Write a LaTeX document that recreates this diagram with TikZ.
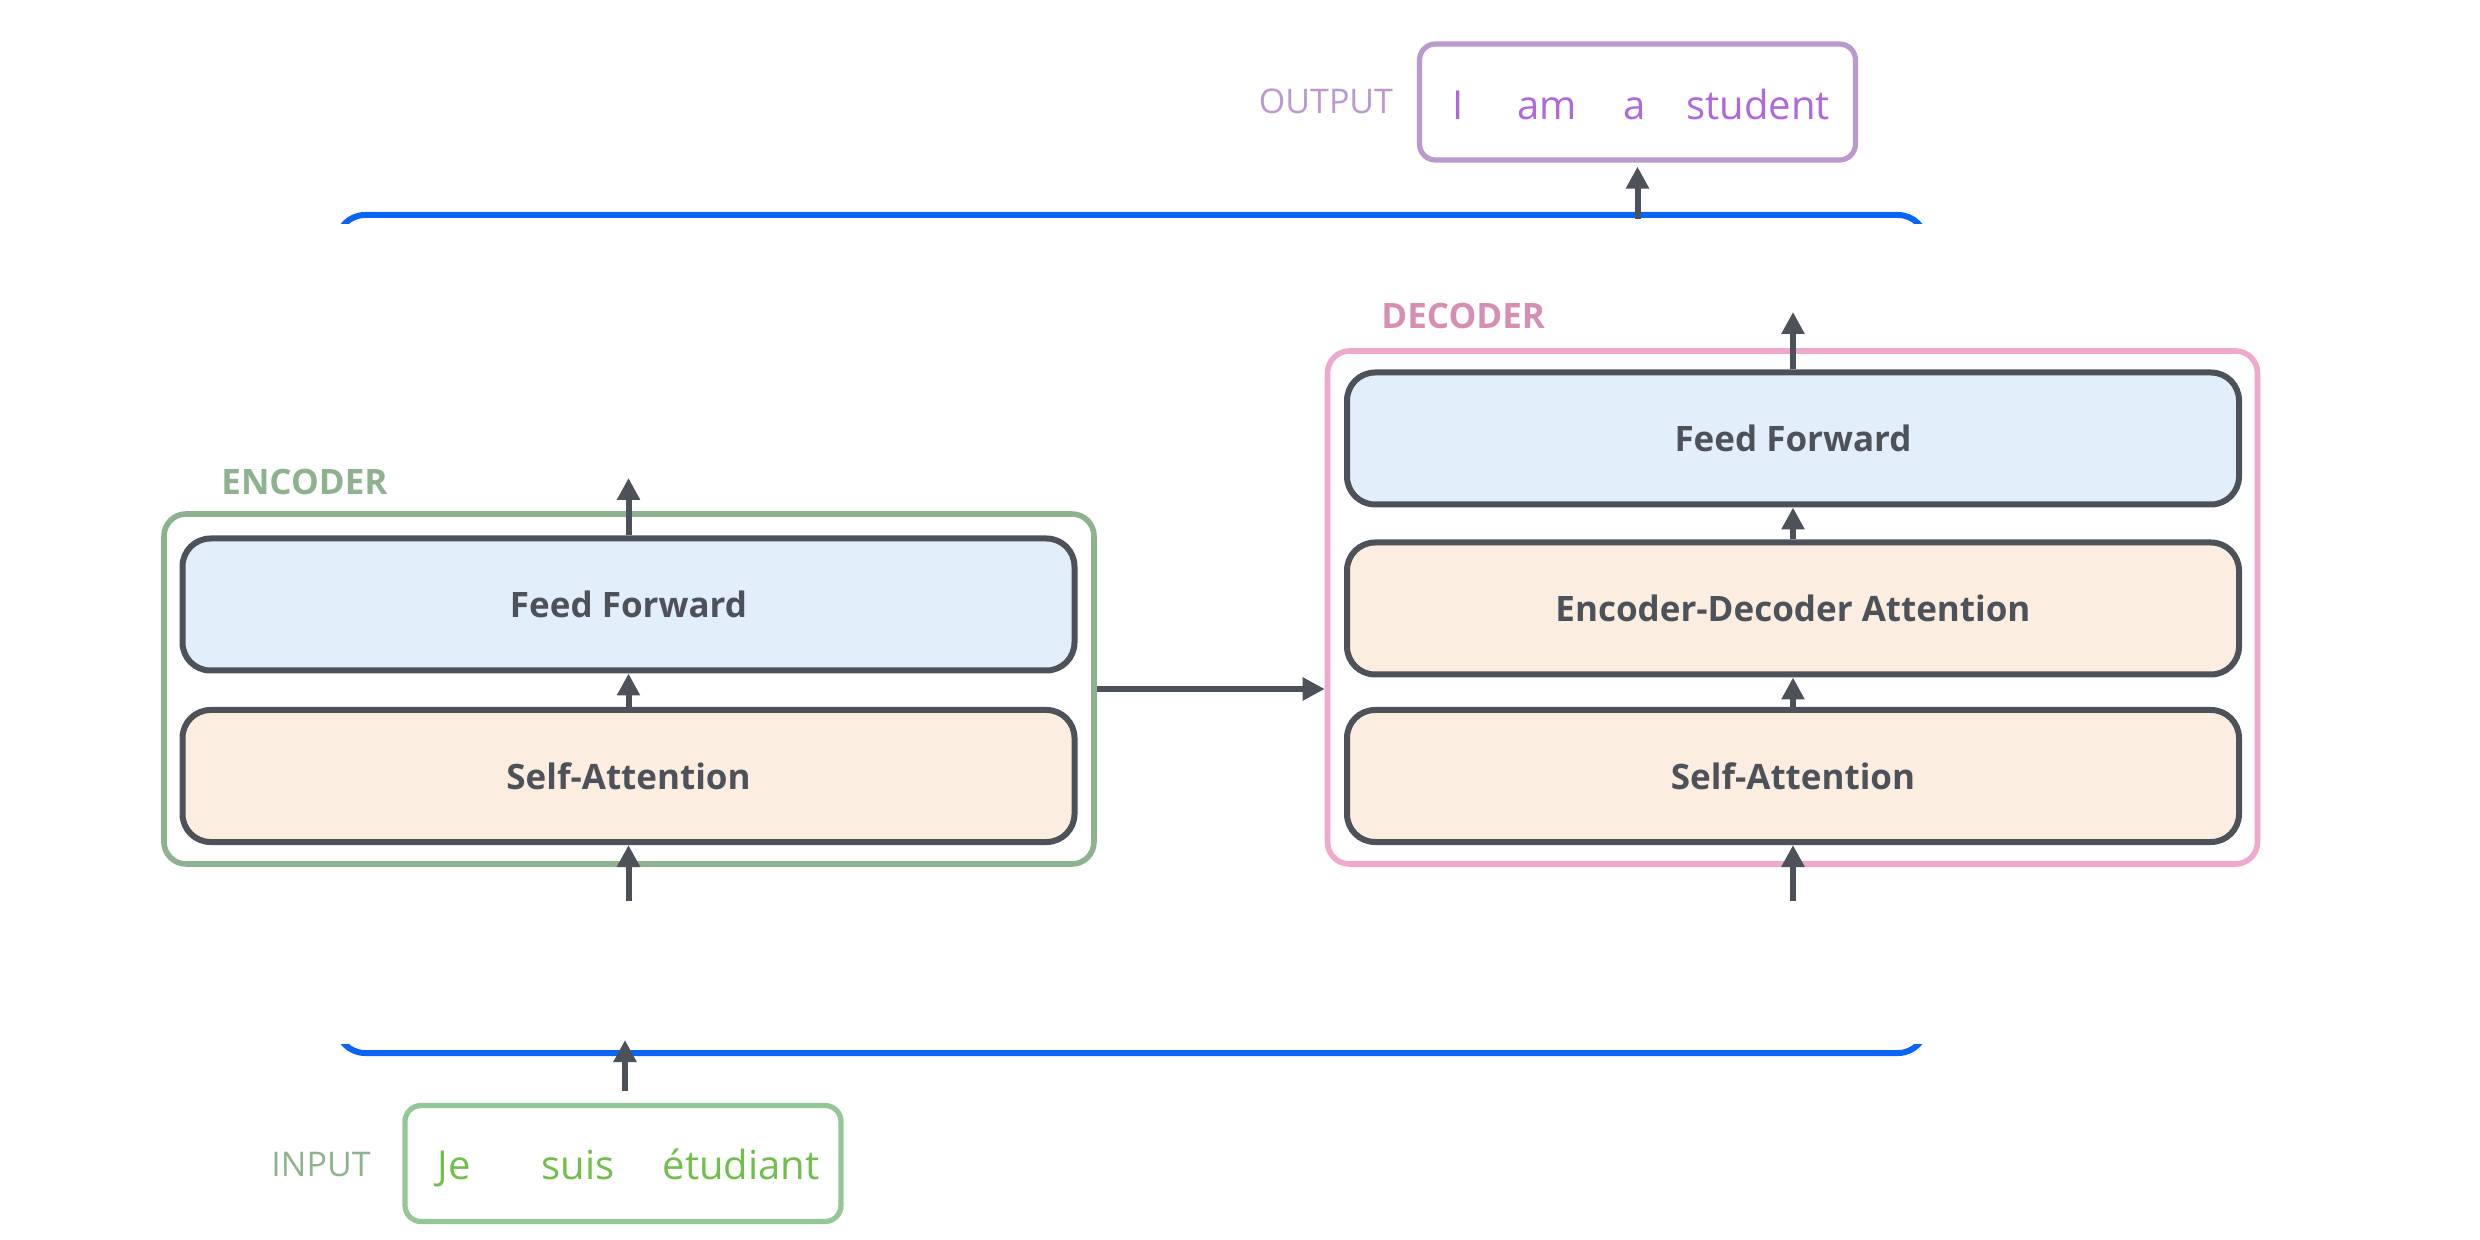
\documentclass[tikz,border=0pt]{standalone}
\usepackage{fontspec}
\setmainfont{Open Sans}
\usetikzlibrary{arrows.meta}
\definecolor{blueline}{RGB}{10,100,245}
\definecolor{darkb}{RGB}{77,81,89}
\definecolor{ffill}{RGB}{227,238,251}
\definecolor{safill}{RGB}{251,237,223}
\definecolor{encg}{RGB}{141,179,142}
\definecolor{decp}{RGB}{240,168,204}
\definecolor{decl}{RGB}{214,143,178}
\definecolor{outb}{RGB}{187,153,206}
\definecolor{outt}{RGB}{176,102,221}
\definecolor{inb}{RGB}{147,199,149}
\definecolor{intx}{RGB}{111,191,74}
\begin{document}
\begin{tikzpicture}[x=0.5pt,y=-0.5pt,
  layer/.style={draw=darkb,line width=3pt,rounded corners=14pt,minimum width=446pt,minimum height=66pt,inner sep=0pt,font=\bfseries\fontsize{17.5}{20}\selectfont,text=darkb},
  ffbox/.style={layer,fill=ffill},
  attbox/.style={layer,fill=safill},
  group/.style={line width=2.8pt,rounded corners=11pt,minimum width=465pt,inner sep=0pt},
  grplabel/.style={font=\bfseries\fontsize{17.5}{20}\selectfont,anchor=base west,inner sep=0pt},
  tag/.style={font=\fontsize{17}{19}\selectfont,anchor=base,inner sep=0pt},
  word/.style={font=\fontsize{20}{22}\selectfont,anchor=base,inner sep=0pt},
  wordbox/.style={line width=2.6pt,rounded corners=8pt,minimum width=218pt,minimum height=58pt,inner sep=0pt},
  arr/.style={draw=darkb,line width=3pt,-{Triangle[width=11pt,length=11pt]}},
  bracket/.style={draw=blueline,line width=3pt,rounded corners=14pt}
]
\useasboundingbox (0,0) rectangle (2480,1240);

% blue brackets
\begin{scope}
\clip (300,190) rectangle (1970,224);
\draw[bracket] (337,215) rectangle (1926,1053);
\end{scope}
\begin{scope}
\clip (300,1044) rectangle (1970,1080);
\draw[bracket] (337,215) rectangle (1926,1053);
\end{scope}

% encoder
\node[group,draw=encg,minimum height=175pt] (enc) at (629,689) {};
\node[ffbox] (eff) at (628.5,604.5) {Feed Forward};
\node[attbox] (esa) at (628.5,776) {Self-Attention};
\node[grplabel,text=encg] (enclbl) at (221,495) {ENCODER};

% decoder
\node[group,draw=decp,minimum height=256.5pt] (dec) at (1792.5,607.5) {};
\node[ffbox] (dff) at (1793,438.5) {Feed Forward};
\node[attbox] (deda) at (1793,608.5) {Encoder-Decoder Attention};
\node[attbox] (dsa) at (1793,776) {Self-Attention};
\node[grplabel,text=decl] (declbl) at (1381,329) {DECODER};

% output
\node[wordbox,draw=outb] (outbox) at (1637.5,102) {};
\node[tag,text=outb] (outlbl) at (1326,114) {OUTPUT};
\node[word,text=outt] (o1) at (1458,120) {I};
\node[word,text=outt] (o2) at (1547,120) {am};
\node[word,text=outt] (o3) at (1635,120) {a};
\node[word,text=outt] (o4) at (1758,120) {student};

% input
\node[wordbox,draw=inb] (inbox) at (623,1163.5) {};
\node[tag,text=encg] (inlbl) at (321,1176) {INPUT};
\node[word,text=intx] (i1) at (454,1179) {Je};
\node[word,text=intx] (i2) at (578,1179) {suis};
\node[word,text=intx] (i3) at (741,1179) {étudiant};

% coordinates
\coordinate (encTop) at (628.5,478);
\coordinate (encIn) at (628.5,901);
\coordinate (decTop) at (1793,312);
\coordinate (decIn) at (1793,901);
\coordinate (outStart) at (1637.5,219);
\coordinate (inEnd) at (625,1040);

% arrows
\draw[arr] (eff.north) -- (encTop);
\draw[arr] (esa.north) -- (eff.south);
\draw[arr] (encIn) -- (esa.south);
\draw[arr] (enc.east) -- (enc.east -| dec.west);
\draw[arr] (dff.north) -- (decTop);
\draw[arr] (deda.north) -- (dff.south);
\draw[arr] (dsa.north) -- (deda.south);
\draw[arr] (decIn) -- (dsa.south);
\draw[arr,shorten >=2pt] (outStart) -- (outbox.south);
\draw[arr,shorten <=6pt] (inbox.north -| inEnd) -- (inEnd);
\end{tikzpicture}
\end{document}
